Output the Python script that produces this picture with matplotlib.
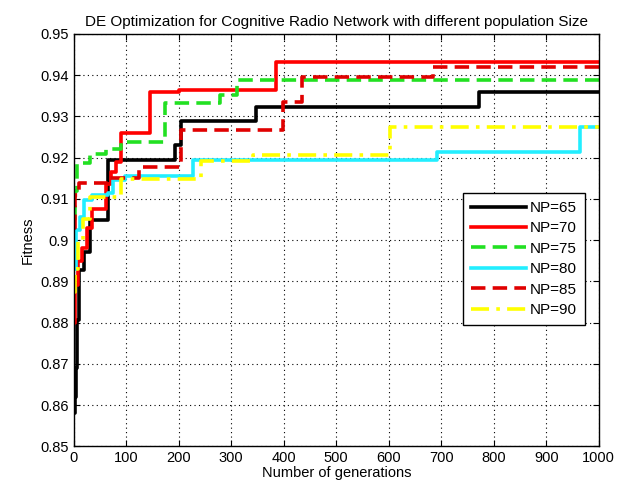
import numpy as np
from matplotlib import pyplot as plt

# breakpoints of each step curve: generation where a new best fitness appears
gen_65 = [0, 2, 4, 6, 10, 20, 30, 65, 192, 205, 348, 772, 1000]
fit_65 = [0.858, 0.862, 0.869, 0.8806, 0.8927, 0.897, 0.9049, 0.9195, 0.923, 0.929, 0.9323, 0.9358, 0.9358]

gen_70 = [0, 3, 8, 15, 25, 35, 62, 70, 80, 90, 145, 200, 386, 1000]
fit_70 = [0.880, 0.889, 0.895, 0.898, 0.903, 0.9075, 0.9135, 0.9165, 0.919, 0.926, 0.936, 0.9365, 0.9433, 0.9433]

gen_75 = [0, 3, 6, 30, 62, 90, 173, 278, 310, 1000]
fit_75 = [0.905, 0.912, 0.9188, 0.921, 0.922, 0.9237, 0.9332, 0.9352, 0.9388, 0.9388]

gen_80 = [0, 5, 12, 20, 35, 65, 75, 97, 228, 691, 964, 1000]
fit_80 = [0.893, 0.9024, 0.9056, 0.9097, 0.911, 0.9115, 0.9146, 0.9155, 0.9195, 0.9214, 0.9275, 0.9275]

gen_85 = [0, 3, 10, 65, 125, 205, 398, 435, 684, 1000]
fit_85 = [0.903, 0.911, 0.9138, 0.915, 0.9177, 0.9267, 0.9335, 0.9395, 0.942, 0.942]

gen_90 = [0, 2, 8, 17, 30, 90, 243, 341, 602, 1000]
fit_90 = [0.8875, 0.893, 0.9, 0.905, 0.9105, 0.9148, 0.9192, 0.9206, 0.9274, 0.9274]

labels = ['NP=65', 'NP=70', 'NP=75', 'NP=80', 'NP=85', 'NP=90']

plt.rcParams['font.family'] = ['Liberation Sans', 'DejaVu Sans']

fig = plt.figure(figsize=(6.25, 4.92), dpi=100)
ax = fig.add_axes([0.118, 0.093, 0.84, 0.838])

lw = 2.6
ax.plot(gen_65, fit_65, color='black', lw=lw, drawstyle='steps-post', label=labels[0])
ax.plot(gen_70, fit_70, color='#ff0000', lw=lw, drawstyle='steps-post', label=labels[1])
ax.plot(gen_75, fit_75, color='#22e022', lw=lw, ls=(0, (4, 2)), drawstyle='steps-post', label=labels[2])
ax.plot(gen_80, fit_80, color='#22eeff', lw=lw, drawstyle='steps-post', label=labels[3])
ax.plot(gen_85, fit_85, color='#e00000', lw=lw, ls=(0, (4, 2)), drawstyle='steps-post', label=labels[4])
ax.plot(gen_90, fit_90, color='#ffff00', lw=lw, ls=(0, (5, 2, 1, 2)), drawstyle='steps-post', label=labels[5])

ax.set_xlim(0, 1000)
ax.set_ylim(0.85, 0.95)
ax.set_xticks(np.arange(0, 1001, 100))
ax.set_yticks(np.arange(0.85, 0.951, 0.01))
ax.set_yticklabels(['0.85', '0.86', '0.87', '0.88', '0.89', '0.9', '0.91', '0.92', '0.93', '0.94', '0.95'])
ax.tick_params(direction='in', labelsize=10.5, length=4, top=True, right=True)
ax.grid(True, color='black', ls=(0, (1, 3)), lw=0.8)
for sp in ax.spines.values():
    sp.set_linewidth(1.0)

ax.set_title('DE Optimization for Cognitive Radio Network with different population Size', fontsize=11, pad=6)
ax.set_xlabel('Number of generations', fontsize=10.5, labelpad=1)
ax.set_ylabel('Fitness', fontsize=10.5, labelpad=4)

leg = ax.legend(loc='upper right', bbox_to_anchor=(0.988, 0.632), fontsize=11,
                handlelength=3.6, fancybox=False, framealpha=1, edgecolor='black',
                borderpad=0.5, labelspacing=0.42, handletextpad=0.3)
leg.get_frame().set_linewidth(1.0)

fig.savefig('out.png', dpi=100)
